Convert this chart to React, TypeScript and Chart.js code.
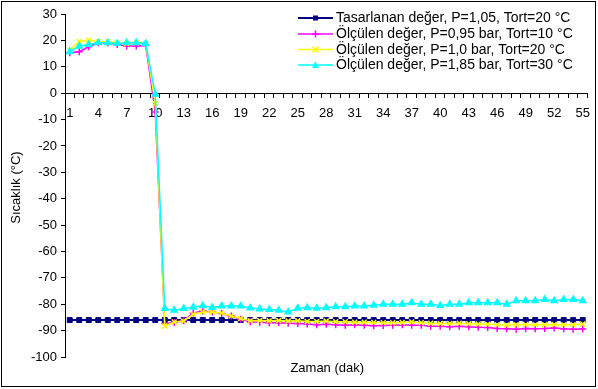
import React, { useEffect, useRef } from 'react';
import { Chart, registerables } from 'chart.js';

Chart.register(...registerables);

const categories: string[] = [
  '1', '2', '3', '4', '5', '6', '7', '8', '9', '10',
  '11', '12', '13', '14', '15', '16', '17', '18', '19', '20',
  '21', '22', '23', '24', '25', '26', '27', '28', '29', '30',
  '31', '32', '33', '34', '35', '36', '37', '38', '39', '40',
  '41', '42', '43', '44', '45', '46', '47', '48', '49', '50',
  '51', '52', '53', '54', '55',
];

const designValues: number[] = [
  -86, -86, -86, -86, -86, -86, -86, -86, -86, -86,
  -86, -86, -86, -86, -86, -86, -86, -86, -86, -86,
  -86, -86, -86, -86, -86, -86, -86, -86, -86, -86,
  -86, -86, -86, -86, -86, -86, -86, -86, -86, -86,
  -86, -86, -86, -86, -86, -86, -86, -86, -86, -86,
  -86, -86, -86, -86, -86,
];

const measured095: number[] = [
  15.3, 15.7, 17.6, 19.1, 19.1, 18.4, 17.9, 17.9, 18.1, -7.1,
  -87.3, -86.9, -86.2, -83.3, -82.6, -82.9, -83.5, -84.5, -85.7, -86.6,
  -86.8, -87.0, -87.0, -87.2, -87.3, -87.5, -87.8, -87.6, -87.8, -88.0,
  -87.8, -88.0, -88.2, -88.1, -88.0, -87.8, -88.0, -88.0, -88.3, -88.3,
  -88.5, -88.3, -88.5, -88.7, -88.8, -89.2, -89.3, -89.5, -89.2, -89.3,
  -89.2, -89.0, -89.3, -89.5, -89.4,
];

const measured100: number[] = [
  16.3, 19.6, 20.1, 19.5, 19.5, 19.1, 18.8, 19.1, 18.8, -3.9,
  -88.3, -86.7, -86.4, -83.8, -82.9, -82.9, -83.3, -84.5, -85.4, -86.3,
  -86.2, -86.3, -86.2, -86.4, -86.3, -86.5, -86.5, -86.4, -86.6, -86.6,
  -86.8, -86.8, -86.9, -87.0, -87.0, -86.9, -86.7, -87.0, -87.2, -87.3,
  -87.3, -87.2, -87.4, -87.5, -87.6, -87.8, -87.9, -87.8, -87.7, -87.8,
  -87.8, -87.7, -87.8, -87.8, -87.5,
];

const measured185: number[] = [
  15.7, 17.8, 18.4, 19.1, 19.1, 18.8, 19.1, 19.1, 18.8, -0.4,
  -81.6, -82.3, -81.6, -81.1, -80.6, -81.2, -80.7, -80.7, -80.7, -81.4,
  -81.8, -82.0, -82.3, -82.9, -81.5, -81.3, -81.5, -81.3, -81.0, -81.0,
  -80.7, -80.7, -80.4, -80.0, -80.0, -80.0, -79.4, -80.0, -80.0, -80.5,
  -80.0, -80.0, -79.4, -79.4, -79.4, -79.4, -80.0, -78.7, -78.7, -78.7,
  -78.2, -78.7, -78.2, -78.2, -78.7,
];

const seriesLabels: string[] = [
  'Tasarlanan değer, P=1,05, Tort=20 °C',
  'Ölçülen değer, P=0,95 bar, Tort=10 °C',
  'Ölçülen değer, P=1,0 bar, Tort=20 °C',
  'Ölçülen değer, P=1,85 bar, Tort=30 °C',
];

const yAxisTitle = 'Sıcaklık (°C)';
const xAxisTitle = 'Zaman (dak)';

const FONT = '"Liberation Sans", Arial, sans-serif';

function drawMarker(ctx: CanvasRenderingContext2D, style: string, x: number, y: number, color: string) {
  ctx.save();
  ctx.fillStyle = color;
  ctx.strokeStyle = color;
  ctx.lineWidth = 1.5;
  if (style === 'rect') {
    ctx.fillRect(x - 2.5, y - 2.5, 5, 5);
  } else if (style === 'cross') {
    ctx.beginPath();
    ctx.moveTo(x - 3.5, y);
    ctx.lineTo(x + 3.5, y);
    ctx.moveTo(x, y - 3.5);
    ctx.lineTo(x, y + 3.5);
    ctx.stroke();
  } else if (style === 'crossRot') {
    ctx.beginPath();
    ctx.moveTo(x - 3, y - 3);
    ctx.lineTo(x + 3, y + 3);
    ctx.moveTo(x + 3, y - 3);
    ctx.lineTo(x - 3, y + 3);
    ctx.stroke();
  } else if (style === 'triangle') {
    ctx.beginPath();
    ctx.moveTo(x, y - 3.5);
    ctx.lineTo(x + 3.5, y + 3);
    ctx.lineTo(x - 3.5, y + 3);
    ctx.closePath();
    ctx.fill();
  }
  ctx.restore();
}

const decorPlugin = {
  id: 'decor',
  beforeDraw(chart: any) {
    const ctx = chart.ctx as CanvasRenderingContext2D;
    ctx.save();
    ctx.fillStyle = '#ffffff';
    ctx.fillRect(0, 0, chart.width, chart.height);
    ctx.restore();
  },
  afterDraw(chart: any) {
    const ctx = chart.ctx as CanvasRenderingContext2D;
    const area = chart.chartArea;
    ctx.save();
    // outer border
    ctx.strokeStyle = '#000000';
    ctx.lineWidth = 1;
    ctx.strokeRect(1.5, 1.5, chart.width - 4, chart.height - 4);

    // axis titles
    ctx.fillStyle = '#000000';
    ctx.font = `13px ${FONT}`;
    ctx.textAlign = 'center';
    ctx.textBaseline = 'middle';
    ctx.fillText(xAxisTitle, (area.left + area.right) / 2 + 1, 368);
    ctx.save();
    ctx.translate(16, (area.top + area.bottom) / 2 + 2);
    ctx.rotate(-Math.PI / 2);
    ctx.fillText(yAxisTitle, 0, 0);
    ctx.restore();

    // legend
    const rowY = [18, 34, 49.5, 65];
    chart.data.datasets.forEach((ds: any, i: number) => {
      const y = rowY[i];
      ctx.strokeStyle = ds.borderColor;
      ctx.lineWidth = ds.borderWidth;
      ctx.beginPath();
      ctx.moveTo(298, y);
      ctx.lineTo(333, y);
      ctx.stroke();
      drawMarker(ctx, ds.pointStyle, 315.5, y, ds.borderColor);
      ctx.fillStyle = '#000000';
      ctx.font = `14px ${FONT}`;
      ctx.textAlign = 'left';
      ctx.textBaseline = 'middle';
      ctx.fillText(ds.label, 336, y + 0.5);
    });
    ctx.restore();
  },
};

export default function App() {
  const canvasRef = useRef<HTMLCanvasElement | null>(null);

  useEffect(() => {
    if (!canvasRef.current) return;
    const colors = ['#000080', '#FF00FF', '#FFFF00', '#00FFFF'];
    const styles = ['rect', 'cross', 'crossRot', 'triangle'];
    const values = [designValues, measured095, measured100, measured185];
    const datasets = values.map((v, i) => ({
      label: seriesLabels[i],
      data: v,
      borderColor: colors[i],
      backgroundColor: colors[i],
      borderWidth: i === 0 ? 2 : 1.5,
      pointStyle: styles[i],
      pointRadius: 3.5,
      pointBorderWidth: i === 0 ? 1 : 1.5,
      pointBackgroundColor: colors[i],
      pointBorderColor: colors[i],
      tension: 0,
      order: 4 - i,
    }));

    const chart = new Chart(canvasRef.current, {
      type: 'line',
      data: { labels: categories, datasets },
      options: {
        animation: false,
        responsive: false,
        devicePixelRatio: 1,
        layout: { padding: { left: 0, right: 7, top: 14, bottom: 32 } },
        plugins: {
          legend: { display: false },
          tooltip: { enabled: false },
          title: { display: false },
        },
        scales: {
          x: {
            type: 'category',
            position: { y: 0 } as any,
            offset: true,
            grid: {
              display: true,
              drawOnChartArea: false,
              drawTicks: true,
              tickLength: 4,
              offset: true,
              color: '#000000',
            },
            border: { display: true, color: '#000000', width: 1 },
            ticks: {
              autoSkip: false,
              maxRotation: 0,
              minRotation: 0,
              padding: 8,
              color: '#000000',
              font: { family: FONT, size: 13 },
              callback: (_v: any, idx: number) => (idx % 3 === 0 ? categories[idx] : ''),
            },
          },
          y: {
            type: 'linear',
            position: 'left',
            min: -100,
            max: 30,
            afterFit: (scale: any) => {
              scale.width = 65;
            },
            grid: {
              display: true,
              drawOnChartArea: false,
              drawTicks: true,
              tickLength: 4,
              color: '#000000',
            },
            border: { display: true, color: '#000000', width: 1 },
            ticks: {
              stepSize: 10,
              padding: 4,
              color: '#000000',
              font: { family: FONT, size: 13 },
            },
          },
        },
      },
      plugins: [decorPlugin],
    } as any);

    return () => {
      chart.destroy();
    };
  }, []);

  return (
    <div style={{ position: 'absolute', left: 0, top: 0, width: 598, height: 389 }}>
      <canvas ref={canvasRef} width={598} height={389} style={{ display: 'block' }} />
    </div>
  );
}
